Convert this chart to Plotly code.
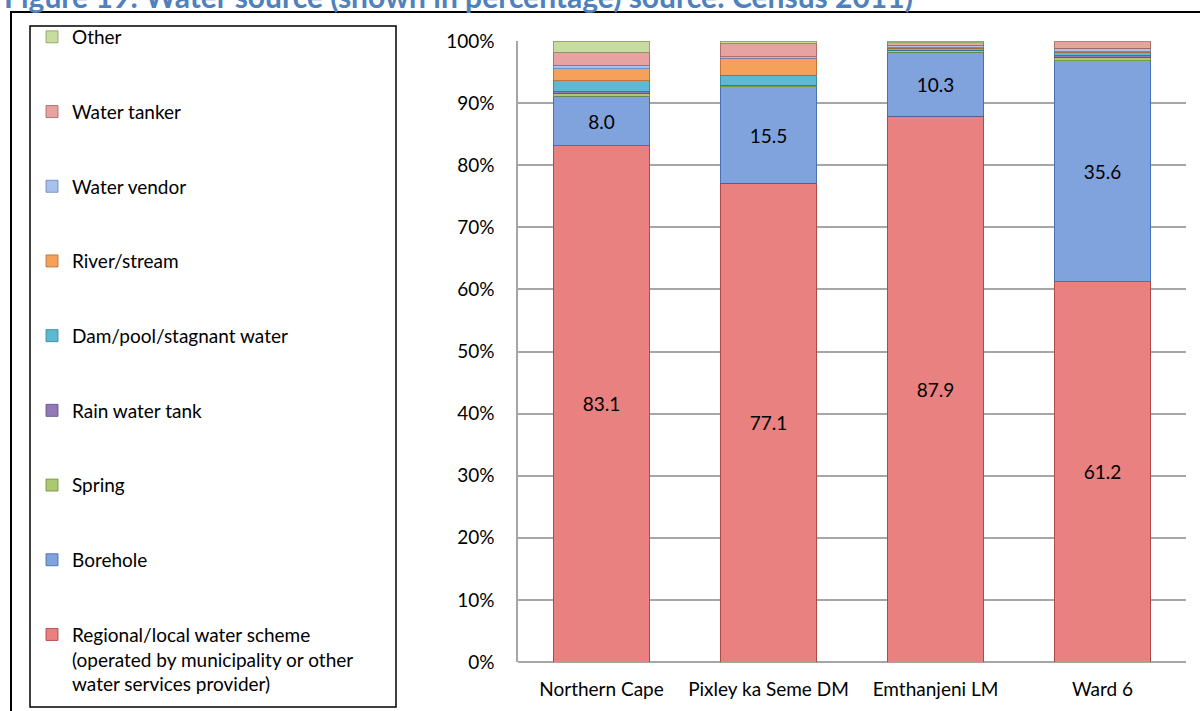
import plotly.graph_objects as go

categories = ["Northern Cape", "Pixley ka Seme DM", "Emthanjeni LM", "Ward 6"]

regional = [83.1, 77.1, 87.9, 61.2]
borehole = [8.0, 15.5, 10.3, 35.6]
spring = [0.4, 0.2, 0.2, 0.5]
rain_tank = [0.4, 0.1, 0.1, 0.4]
dam = [1.7, 1.6, 0.3, 0.5]
river = [1.9, 2.7, 0.1, 0.1]
vendor = [0.5, 0.3, 0.3, 0.5]
tanker = [2.2, 2.1, 0.5, 1.1]
other = [1.8, 0.4, 0.3, 0.1]

series = [
    ("Regional/local water scheme<br>(operated by municipality or other<br>water services provider)", regional, "#E8817F", "#A83A38", True),
    ("Borehole", borehole, "#80A3DE", "#3A64A8", True),
    ("Spring", spring, "#ACC872", "#6F8C3A", False),
    ("Rain water tank", rain_tank, "#9279B8", "#5E4782", False),
    ("Dam/pool/stagnant water", dam, "#5DB9D0", "#2F8198", False),
    ("River/stream", river, "#F5A15C", "#B8682A", False),
    ("Water vendor", vendor, "#A9C2EA", "#5F82BC", False),
    ("Water tanker", tanker, "#E6A3A2", "#A55E5C", False),
    ("Other", other, "#C8DCA2", "#879E5C", False),
]

FONT = "Lato"
FS = 19

fig = go.Figure()
n = len(series)
for i, (name, vals, col, edge, labelled) in enumerate(series):
    fig.add_trace(go.Bar(
        x=categories, y=vals, name=name, legendgroup=f"g{i}",
        legendrank=n - i,
        marker=dict(color=col, line=dict(color=edge, width=0.8)),
        text=[f"{v:.1f}" for v in vals] if labelled else None,
        textposition="inside" if labelled else "none",
        insidetextanchor="middle",
        textfont=dict(color="black", size=FS, family=FONT),
        width=0.58,
    ))

# paper coordinate helpers (plot area: x 518-1186 px, y 41-662 px)
def px_x(p):
    return (p - 518) / 668

def px_y(p):
    return (662 - p) / 621

fig.update_layout(
    barmode="stack",
    width=1200, height=711,
    margin=dict(l=518, r=14, t=41, b=49),
    paper_bgcolor="white", plot_bgcolor="white",
    font=dict(family=FONT, size=FS, color="black"),
    showlegend=True,
    legend=dict(
        x=px_x(32), y=px_y(18), xanchor="left", yanchor="top",
        traceorder="grouped", tracegroupgap=47,
        font=dict(family=FONT, size=FS, color="black"),
        bgcolor="rgba(0,0,0,0)", borderwidth=0,
        itemwidth=30, valign="top", maxheight=705,
    ),
    xaxis=dict(
        showgrid=False, showline=False, ticks="",
        tickfont=dict(family=FONT, size=FS, color="black"),
        ticklabelstandoff=14,
    ),
    yaxis=dict(
        range=[0, 100], dtick=10, ticksuffix="%",
        showgrid=True, gridcolor="#A6A6A6", gridwidth=1.5,
        showline=True, linecolor="#A6A6A6", linewidth=1.5,
        zeroline=True, zerolinecolor="#A6A6A6", zerolinewidth=1.5,
        ticks="", tickfont=dict(family=FONT, size=FS, color="black"),
        ticklabelstandoff=18,
    ),
    shapes=[
        dict(type="rect", xref="paper", yref="paper",
             x0=px_x(11), x1=px_x(1215), y0=px_y(730), y1=px_y(12),
             line=dict(color="black", width=2), fillcolor="rgba(0,0,0,0)"),
        dict(type="rect", xref="paper", yref="paper",
             x0=px_x(30), x1=px_x(396), y0=px_y(707), y1=px_y(26),
             line=dict(color="black", width=1.5), fillcolor="rgba(0,0,0,0)"),
    ],
    annotations=[
        dict(text="<b>Figure 19: Water source (shown in percentage) source: Census 2011)</b>",
             xref="paper", yref="paper", x=px_x(2), y=px_y(16),
             xanchor="left", yanchor="bottom", showarrow=False,
             font=dict(family=FONT, size=30, color="#4F81BD")),
    ],
)

fig.write_html("out.html")
